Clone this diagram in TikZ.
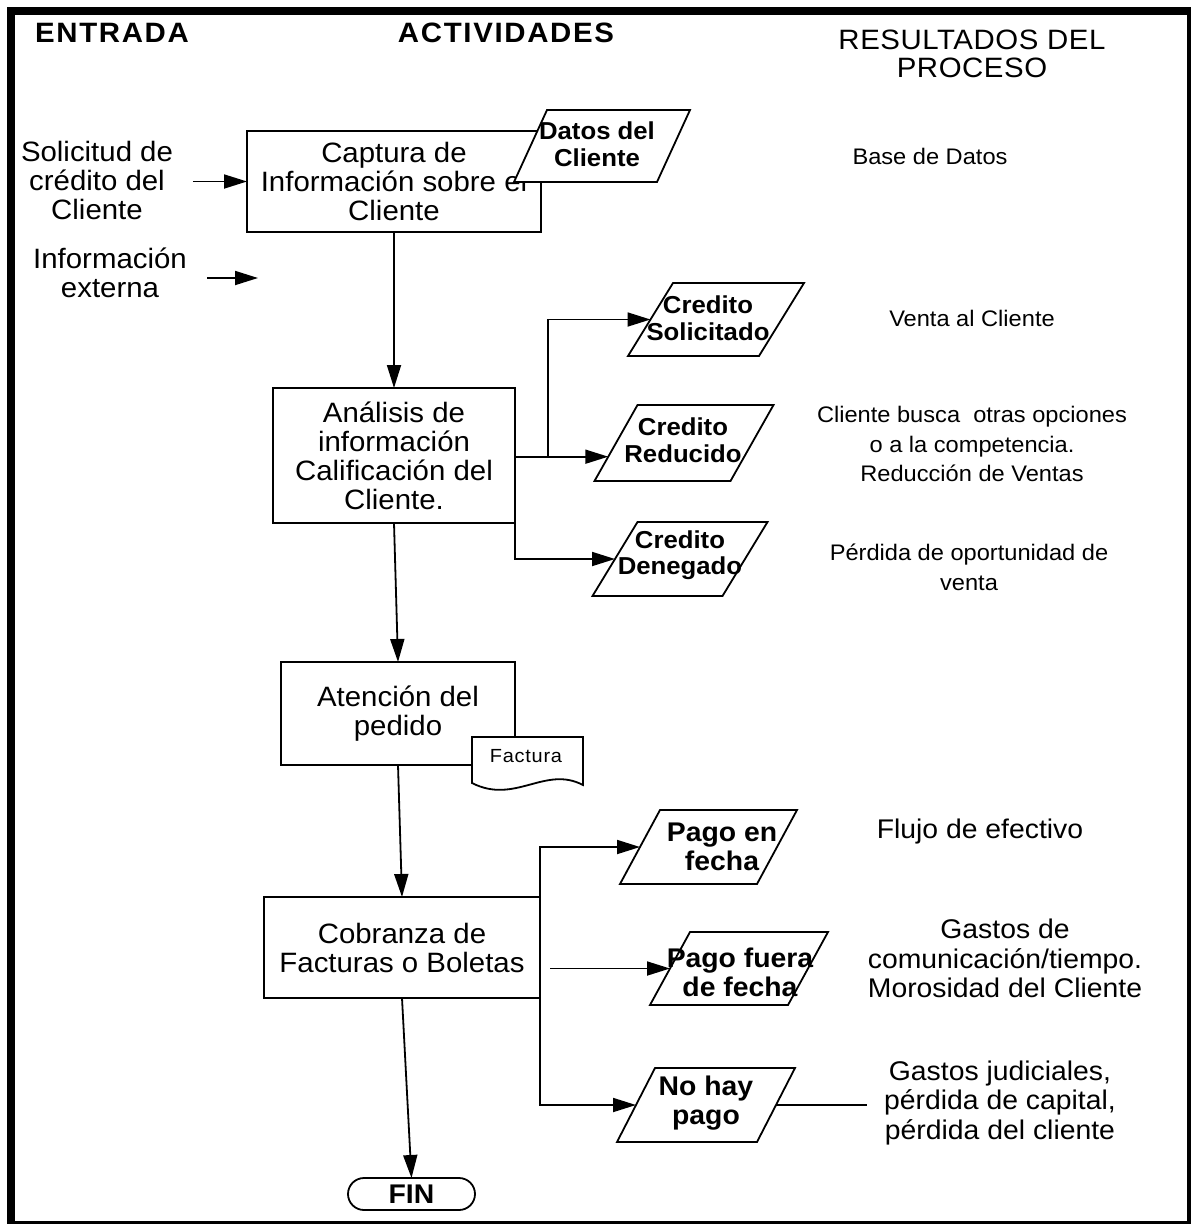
\documentclass[tikz,border=0pt]{standalone}
\usepackage{fontspec}
\setmainfont{Liberation Sans}[FakeStretch=1.05]
\usetikzlibrary{arrows.meta,calc}

% parallelogram outline around an empty, sized node; #2 = half of the horizontal slant
\newcommand\paraoutline[2]{%
  \coordinate (#1-tl) at ($(#1.north west)+(#2,0)$);
  \coordinate (#1-tr) at ($(#1.north east)+(#2,0)$);
  \coordinate (#1-br) at ($(#1.south east)-(#2,0)$);
  \coordinate (#1-bl) at ($(#1.south west)-(#2,0)$);
  \draw[paraline] (#1-tl) -- (#1-tr) -- (#1-br) -- (#1-bl) -- cycle;}

\tikzset{
  every node/.style={inner sep=0pt, outer sep=0pt},
  boxtext/.style={font=\fontsize{28}{29}\selectfont, align=center},
  procbox/.style={draw, line width=1.8pt, fill=white, boxtext},
  para/.style={inner sep=0pt},
  paraline/.style={draw, fill=white, line width=1.8pt, line join=miter},
  paratext/.style={font=\fontsize{24.5}{26.5}\selectfont\bfseries, align=center},
  paratextL/.style={font=\fontsize{27}{29}\selectfont\bfseries, align=center},
  restext/.style={font=\fontsize{22.5}{29.5}\selectfont, align=center},
  restextL/.style={font=\fontsize{27}{29.5}\selectfont, align=center},
  head/.style={font=\fontsize{28}{28}\selectfont\bfseries\addfontfeature{LetterSpace=6}},
  headR/.style={font=\fontsize{28}{28}\selectfont\addfontfeature{LetterSpace=2}, align=center},
  doctext/.style={font=\fontsize{19}{20}\selectfont\addfontfeature{LetterSpace=4}},
  term/.style={draw, line width=1.8pt, rounded corners=16pt, font=\fontsize{27}{28}\selectfont\bfseries},
  arr/.style={line width=1.8pt, -{Triangle[length=23pt,width=14pt]}},
  link/.style={line width=1.8pt},
}

\begin{document}
\begin{tikzpicture}[x={(1pt,0)}, y={(0,-1pt)}]
\useasboundingbox (0,0) rectangle (1191,1224);
% thick outer frame
\fill[black] (7,7) rectangle (1191,1224);
\fill[white] (15,15) rectangle (1187,1221);

% column headings
\node[head] (h1) at (112,33) {ENTRADA};
\node[head] (h2) at (506,33) {ACTIVIDADES};
\node[headR] (h3) at (972,54) {RESULTADOS DEL\\PROCESO};

% inputs
\node[boxtext] (sol) at (97,180) {Solicitud de\\crédito del\\Cliente};
\node[boxtext] (ext) at (110,272.5) {Información\\externa};
\coordinate (exts) at (207,278);
\coordinate (exte) at (258,278);

% activities
\node[procbox, minimum width=294pt, minimum height=101pt] (b1) at (394,181.5)
  {Captura de\\Información sobre el\\Cliente};
\node[para, minimum width=143pt, minimum height=72pt] (ds) at (602,146) {};
\paraoutline{ds}{16.5}
\node[paratext] (dst) at (597,144) {Datos del\\Cliente};

\node[procbox, minimum width=242pt, minimum height=135pt] (b2) at (394,455.5)
  {Análisis de\\información\\Calificación del\\Cliente.};

\node[procbox, minimum width=234pt, minimum height=103pt] (b3) at (398,713.5)
  {Atención del\\pedido};
% invoice document symbol
\draw[paraline] (472,737) -- (583,737) -- (583,785)
  .. controls (545,765) and (515,805) .. (472,783) -- cycle;
\node[doctext] (fac) at (526,756) {Factura};

\node[procbox, minimum width=276pt, minimum height=101pt] (b4) at (402,947.5)
  {Cobranza de\\Facturas o Boletas};
\node[term, minimum width=127pt, minimum height=32pt] (fin) at (411.5,1194) {FIN};

% credit outcomes
\node[para, minimum width=131pt, minimum height=73pt] (cs) at (716,319.5) {};
\paraoutline{cs}{22.5}
\node[paratext] (cst) at (708,318) {Credito\\Solicitado};

\node[para, minimum width=136pt, minimum height=76pt] (cr) at (684,443) {};
\paraoutline{cr}{21.5}
\node[paratext] (crt) at (683,440) {Credito\\Reducido};

\node[para, minimum width=130pt, minimum height=74pt] (cd) at (680,559) {};
\paraoutline{cd}{22.5}
\node[paratext] (cdt) at (680,555) {Credito\\Denegado};

% payment outcomes
\node[para, minimum width=137pt, minimum height=74pt] (pf) at (708.5,847) {};
\paraoutline{pf}{20}
\node[paratextL] (pft) at (722,847) {Pago en\\fecha};

\node[para, minimum width=138pt, minimum height=73pt] (pff) at (739,968.5) {};
\paraoutline{pff}{20}
\node[paratextL] (pfft) at (740,972) {Pago fuera\\de fecha};

\node[para, minimum width=140pt, minimum height=74pt] (nh) at (706,1105) {};
\paraoutline{nh}{19}
\node[paratextL] (nht) at (706,1103) {No hay\\pago};

% results
\node[restext] (r1) at (930,156) {Base de Datos};
\node[restext] (r2) at (972,318) {Venta al Cliente};
\node[restext] (r3) at (972,444) {Cliente busca~ otras opciones\\o a la competencia.\\Reducción de Ventas};
\node[restext] (r4) at (969,567.5) {Pérdida de oportunidad de\\venta};
\node[restextL] (r5) at (980,832) {Flujo de efectivo};
\node[restextL] (r6) at (1005,958.5) {Gastos de\\comunicación/tiempo.\\Morosidad del Cliente};
\node[restextL] (gj) at (1000,1103) {Gastos judiciales,\\pérdida de capital,\\pérdida del cliente};

% connectors
\draw[arr] ([xshift=20pt]sol.east |- b1.west) -- (b1.west);
\draw[arr] (exts) -- (exte);
\draw[arr] (b1.south) -- (b2.north);

\coordinate (crin) at ($(cr-bl)!0.32!(cr-tl)$);
\coordinate (j1) at ($(b2.east |- crin)+(33,0)$);
\draw[arr] (b2.east |- crin) -- (crin);
\draw[arr] (j1) |- (cs.west);
\draw[arr] (b2.south east) |- (cd.west);

\draw[arr] (b2.south) -- (b3.north);
\draw[arr] (b3.south) -- (b4.north);

\draw[arr] (b4.north east) |- (pf.west);
\draw[arr] ([xshift=10pt]b4.east |- pff.west) -- (pff.west);
\draw[arr] (b4.south east) |- (nh.west);
\coordinate (gjl) at ($(gj.west)+(-17,0)$);
\draw[link] (nh.east) -- (nh.east -| gjl);

\draw[arr] (b4.south) -- (fin.north);
\end{tikzpicture}
\end{document}
